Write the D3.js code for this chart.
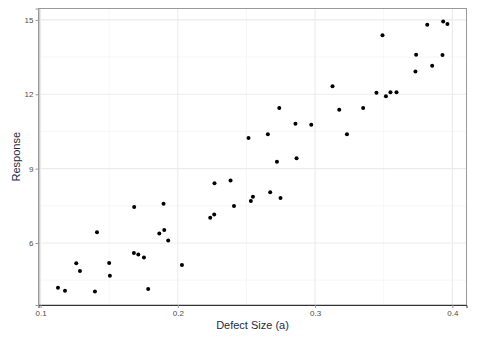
<!DOCTYPE html>
<html lang="en">
<head>
<meta charset="utf-8">
<title>Defect Size vs Response</title>
<script src="https://d3js.org/d3.v7.min.js"></script>
<style>
  body { margin: 0; background: #fff; }
  .tick text { font-family: Arial, "Liberation Sans", sans-serif; font-size: 8px; fill: #4d4d4d; }
  .axis-title { font-family: Arial, "Liberation Sans", sans-serif; font-size: 11px; fill: #1f2a44; }
</style>
</head>
<body>
<script>
// data
const defectSize = [0.1127, 0.1178, 0.126, 0.1287, 0.1396, 0.1411, 0.150, 0.1505, 0.168, 0.1682,
  0.1712, 0.1753, 0.1784, 0.1865, 0.1896, 0.1901, 0.193, 0.203, 0.2236, 0.2265,
  0.2267, 0.2384, 0.2409, 0.2532, 0.2547, 0.2673, 0.2748, 0.2515, 0.2656, 0.2722,
  0.2739, 0.2857, 0.2865, 0.2972, 0.3127, 0.3176, 0.3232, 0.335, 0.3447, 0.3491,
  0.3516, 0.3549, 0.3593, 0.3731, 0.3736, 0.3817, 0.3853, 0.3928, 0.3933, 0.3964];
const response = [4.20, 4.07, 5.18, 4.87, 4.04, 6.43, 5.19, 4.68, 5.60, 7.45,
  5.54, 5.42, 4.15, 6.385, 7.58, 6.53, 6.10, 5.11, 7.02, 7.15,
  8.41, 8.52, 7.49, 7.70, 7.87, 8.05, 7.82, 10.24, 10.39, 9.28,
  11.45, 10.81, 9.42, 10.77, 12.32, 11.38, 10.39, 11.45, 12.06, 14.38,
  11.92, 12.08, 12.08, 12.92, 13.59, 14.80, 13.15, 13.58, 14.94, 14.83];
const xTicks = [0.1, 0.2, 0.3, 0.4];
const xMinor = [0.15, 0.25, 0.35];
const yTicks = [6, 9, 12, 15];
const yMinor = [4.5, 7.5, 10.5, 13.5];

const w = 492, h = 347;
const padL = 38.5, padR = 466.5, padT = 8.5, padB = 305;

const points = defectSize.map((d, i) => ({ x: d, y: response[i] }));

const xScale = d3.scaleLinear().domain([0.0985, 0.4103]).range([padL, padR]);
const yScale = d3.scaleLinear().domain([3.5, 15.46]).range([padB, padT]);

const svg = d3.select("body").append("svg")
  .attr("width", w).attr("height", h);

// grid
const grid = svg.append("g");
grid.selectAll(".xminor").data(xMinor).join("line")
  .attr("x1", d => xScale(d)).attr("x2", d => xScale(d))
  .attr("y1", padT).attr("y2", padB)
  .attr("stroke", "#f2f2f2").attr("stroke-width", 0.6);
grid.selectAll(".yminor").data(yMinor).join("line")
  .attr("y1", d => yScale(d)).attr("y2", d => yScale(d))
  .attr("x1", padL).attr("x2", padR)
  .attr("stroke", "#f2f2f2").attr("stroke-width", 0.6);
grid.selectAll(".xmajor").data(xTicks).join("line")
  .attr("x1", d => xScale(d)).attr("x2", d => xScale(d))
  .attr("y1", padT).attr("y2", padB)
  .attr("stroke", "#ebebeb").attr("stroke-width", 1.1);
grid.selectAll(".ymajor").data(yTicks).join("line")
  .attr("y1", d => yScale(d)).attr("y2", d => yScale(d))
  .attr("x1", padL).attr("x2", padR)
  .attr("stroke", "#ebebeb").attr("stroke-width", 1.1);

// points
svg.append("g").selectAll("circle").data(points).join("circle")
  .attr("cx", d => xScale(d.x))
  .attr("cy", d => yScale(d.y))
  .attr("r", 2)
  .attr("fill", "#000");

// panel border
svg.append("rect")
  .attr("x", padL).attr("y", padT)
  .attr("width", padR - padL).attr("height", padB - padT)
  .attr("fill", "none").attr("stroke", "#999").attr("stroke-width", 1);

// axes
const xAxis = svg.append("g")
  .attr("transform", "translate(0," + padB + ")")
  .call(d3.axisBottom(xScale).tickValues(xTicks).tickSize(3).tickPadding(2).tickFormat(d3.format(".1f")));
xAxis.select(".domain").attr("stroke", "#333").attr("stroke-width", 1);
xAxis.selectAll(".tick line").attr("stroke", "#999");

const yAxis = svg.append("g")
  .attr("transform", "translate(" + padL + ",0)")
  .call(d3.axisLeft(yScale).tickValues(yTicks).tickSize(3).tickPadding(2));
yAxis.select(".domain").attr("stroke", "#999").attr("stroke-width", 1);
yAxis.selectAll(".tick line").attr("stroke", "#999");

// titles
svg.append("text").attr("class", "axis-title")
  .attr("x", (padL + padR) / 2).attr("y", 329)
  .attr("text-anchor", "middle")
  .text("Defect Size (a)");

svg.append("text").attr("class", "axis-title")
  .attr("transform", "translate(20," + ((padT + padB) / 2) + ") rotate(-90)")
  .attr("text-anchor", "middle")
  .text("Response");
</script>
</body>
</html>
